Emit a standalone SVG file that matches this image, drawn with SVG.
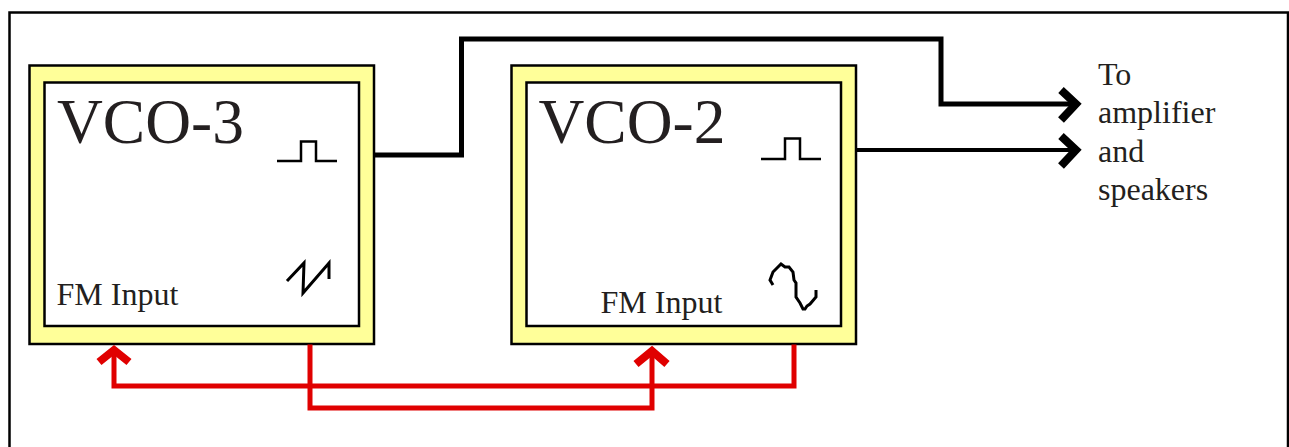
<svg xmlns="http://www.w3.org/2000/svg" width="1289" height="447" viewBox="0 0 1289 447">
<style>
text{font-family:"Liberation Serif","Times New Roman",serif;fill:#231f20}
.title{font-size:63.500px}
.label{font-size:32px}
.outer{fill:#ffff99;stroke:#000;stroke-width:2.5}
.inner{fill:#fff;stroke:#000;stroke-width:2.5}
.wave{fill:none;stroke:#000;stroke-width:2.5;stroke-linejoin:miter}
.black{fill:none;stroke:#000;stroke-linejoin:miter}
.red{fill:none;stroke:#e00000;stroke-width:5;stroke-linejoin:miter;stroke-linecap:square}
.headk{fill:none;stroke:#000;stroke-width:8;stroke-linejoin:miter}
.headr{fill:none;stroke:#e00000;stroke-width:8;stroke-linejoin:miter}
</style>
<rect width="1289" height="447" fill="#fff"/>
<path id="frame" d="M9.5 447V12.5H1288V447" fill="none" stroke="#000" stroke-width="2.5"/>
<g id="vco3">
<rect class="outer" x="29.500" y="65.500" width="344.500" height="278.500"/>
<rect class="inner" x="44.500" y="82.500" width="314.500" height="243.500"/>
<text class="title" x="57" y="142.500">VCO-3</text>
<text class="label" x="56.500" y="304.500">FM Input</text>
<path class="wave" d="M277 161H301V141.500H316V161H337"/>
<path class="wave" d="M287 281L304 263L303 293L329 263V279" stroke-width="3" style="stroke-width:3"/>
</g>
<g id="vco2">
<rect class="outer" x="511.500" y="65.500" width="344.500" height="278.500"/>
<rect class="inner" x="526.500" y="82.500" width="314.500" height="243.500"/>
<text class="title" x="538.500" y="142.500">VCO-2</text>
<text class="label" x="600.500" y="312.500">FM Input</text>
<path class="wave" d="M761 159H785V138.500H800V159H821"/>
<path class="wave" style="stroke-width:3" d="M773 285L770 280L773 272L781 264L785 267H789L793 272L794 280L796 283V297L800 303L803 309H805L807 306L810 304L816 297V290"/>
</g>
<g id="speakers">
<text class="label" x="1098" y="84.500">To</text>
<text class="label" x="1098" y="122.500">amplifier</text>
<text class="label" x="1098" y="161.500">and</text>
<text class="label" x="1098" y="199.500">speakers</text>
</g>
<g id="connectors">
<path class="black" stroke-width="5" d="M374 155H461.500V39H941V104H1074"/>
<path class="black" stroke-width="4" d="M856 150H1074"/>
<path class="headk" d="M1061 90L1076 104L1061 120"/>
<path class="headk" d="M1061 136L1076 150L1061 166"/>
<path class="red" d="M794 347V386H114V352"/>
<path class="red" d="M310 347V408H652V352"/>
<path class="headr" d="M99 362L114 350L129 362"/>
<path class="headr" d="M636 364L652 351L667 364"/>
</g>
</svg>
